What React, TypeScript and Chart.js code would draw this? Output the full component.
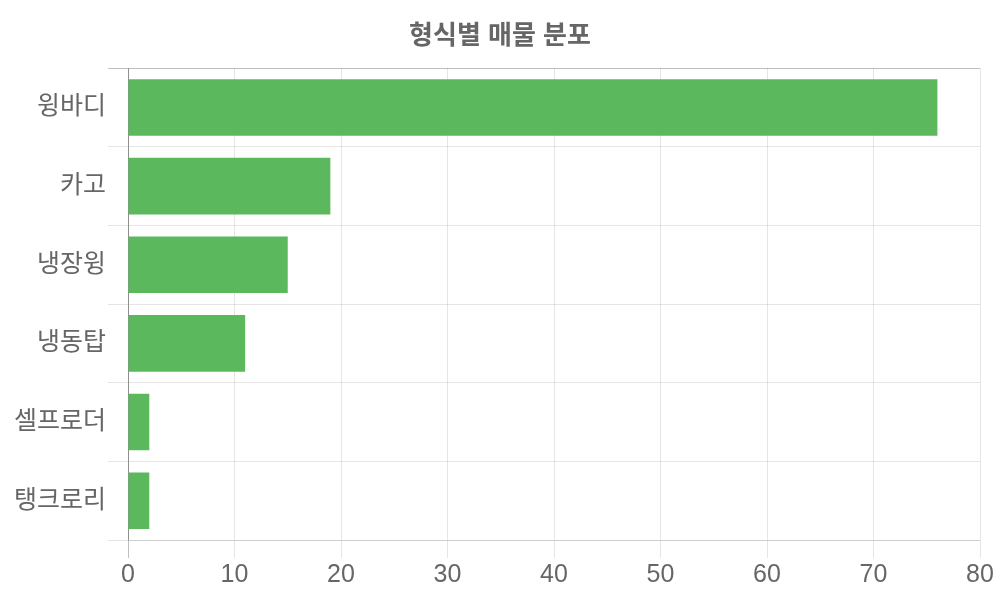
import { useEffect, useRef } from 'react';
import Chart from 'chart.js/auto';

const categories = ['윙바디', '카고', '냉장윙', '냉동탑', '셀프로더', '탱크로리'];
const listingCounts = [76, 19, 15, 11, 2, 2];
const chartTitle = '형식별 매물 분포';

const FONT = "'Liberation Sans', Arial, 'Noto Sans CJK KR', sans-serif";
const GRID = 'rgba(0,0,0,0.1)';
const ZERO = 'rgba(0,0,0,0.25)';

export default function App() {
  const canvasRef = useRef<HTMLCanvasElement>(null);
  const chartRef = useRef<Chart | null>(null);

  useEffect(() => {
    if (!canvasRef.current) return;
    if (chartRef.current) chartRef.current.destroy();

    const ctx = canvasRef.current.getContext('2d');
    if (!ctx) return;

    chartRef.current = new Chart(ctx, {
      type: 'bar',
      data: {
        labels: categories,
        datasets: [
          {
            label: '매물',
            data: listingCounts,
            backgroundColor: '#5cb85c',
            borderWidth: 0,
          },
        ],
      },
      options: {
        indexAxis: 'y',
        animation: false,
        responsive: true,
        maintainAspectRatio: false,
        layout: { padding: { left: 0, right: 0, top: 0, bottom: 8 } },
        plugins: {
          legend: { display: false },
          tooltip: { enabled: false },
          title: {
            display: true,
            text: chartTitle,
            color: '#666',
            font: { family: FONT, size: 26, weight: 'bold' },
            padding: { top: 21, bottom: 16 },
          },
        },
        scales: {
          x: {
            min: 0,
            max: 80,
            ticks: { stepSize: 10, color: '#666', font: { family: FONT, size: 25 }, padding: 2 },
            grid: {
              color: (c: any) => (c.index === 0 ? ZERO : GRID),
              tickLength: 18,
            },
            border: { color: GRID },
            afterFit: (scale: any) => {
              scale.paddingRight = 20;
            },
          },
          y: {
            ticks: { color: '#666', font: { family: FONT, size: 25 }, padding: 2 },
            grid: {
              color: (c: any) => (c.index === 0 ? ZERO : GRID),
              tickLength: 20,
            },
            border: { color: ZERO },
            afterFit: (scale: any) => {
              scale.width = 128;
            },
          },
        },
      },
    });

    return () => chartRef.current?.destroy();
  }, []);

  return (
    <div style={{ position: 'fixed', left: 0, top: 0, width: 1000, height: 600, background: '#fff' }}>
      <canvas ref={canvasRef} />
    </div>
  );
}
